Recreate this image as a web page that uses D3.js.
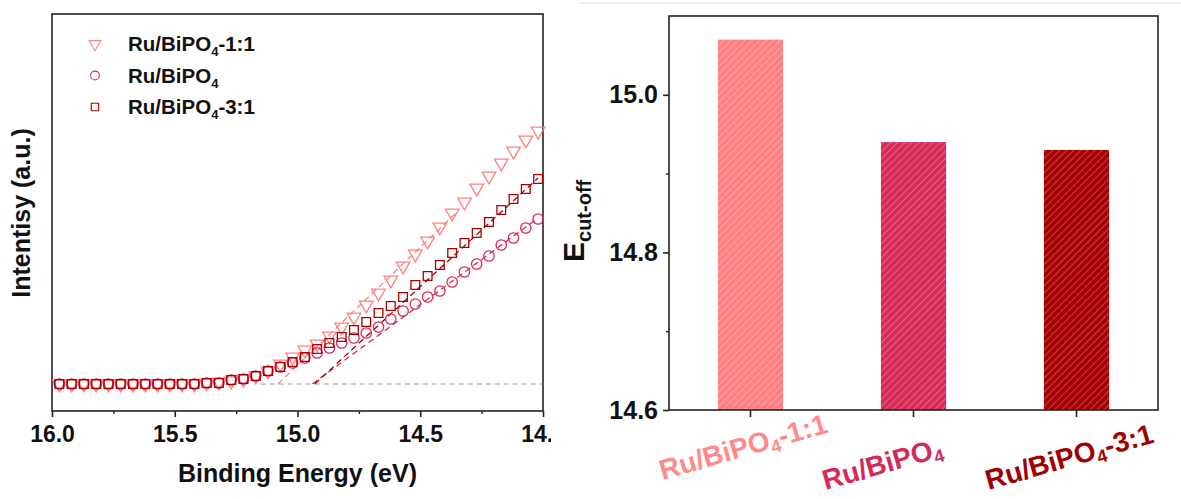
<!DOCTYPE html>
<html>
<head>
<meta charset="utf-8">
<script src="https://cdn.jsdelivr.net/npm/d3@7"></script>
<style>
  body { margin: 0; background: #fff; }
  text { font-family: Arial, "Liberation Sans", sans-serif; font-weight: bold; }
</style>
</head>
<body>
<div id="graphicContainer"></div>
<script>
// ---- left panel: secondary electron cut-off, intensity in a.u. ----
var energy = [15.97, 15.92, 15.87, 15.82, 15.77, 15.72, 15.67, 15.62, 15.57, 15.52,
              15.47, 15.42, 15.37, 15.32, 15.27, 15.22, 15.17, 15.12, 15.07, 15.02,
              14.97, 14.92, 14.87, 14.82, 14.77, 14.72, 14.67, 14.62, 14.57, 14.52,
              14.47, 14.42, 14.37, 14.32, 14.27, 14.22, 14.17, 14.12, 14.07, 14.02]

var int11 = [0, 0, 0, 0, 0, 0, 0, 0, 0, 0, 0, 0, 0.1, 0.2, 0.3, 0.5, 0.8, 1.3, 2.0, 2.7,
             3.4, 4.0, 4.8, 5.7, 6.7, 7.9, 9.1, 10.4, 11.8, 13.0, 14.3, 15.7, 17.1, 18.2, 19.6, 20.8,
             22.1, 23.3, 24.4, 25.3]
var intPure = [0, 0, 0, 0, 0, 0, 0, 0, 0, 0, 0, 0, 0.1, 0.1, 0.4, 0.5, 0.8, 1.3, 1.7, 2.1,
               2.6, 3.1, 3.6, 4.1, 4.6, 5.1, 5.7, 6.5, 7.3, 8.0, 8.7, 9.3, 10.2, 11.2, 12.0, 12.8,
               13.9, 14.6, 15.6, 16.5]
var int31 = [0, 0, 0, 0, 0, 0, 0, 0, 0, 0, 0, 0, 0.1, 0.1, 0.4, 0.5, 0.8, 1.3, 1.7, 2.2,
             2.7, 3.5, 4.1, 4.7, 5.4, 6.2, 7.1, 7.8, 8.7, 9.9, 10.8, 11.9, 13.1, 14.1, 15.1, 16.2,
             17.4, 18.5, 19.5, 20.5]

// linear extrapolation lines (start at baseline intercept)
var fit11 = [[15.08, 0], [14.35, 17.2]]
var fitPure = [[14.94, 0], [14.02, 16.6]]
var fit31 = [[14.93, 0], [14.02, 20.6]]
var baseLine = [[15.15, 0], [14.0, 0]]

var xTicks = [16.0, 15.5, 15.0, 14.5, 14.0]
var xMinor = [15.75, 15.25, 14.75, 14.25]

// ---- right panel: cut-off energies ----
var samples = ["Ru/BiPO4-1:1", "Ru/BiPO4", "Ru/BiPO4-3:1"]
var cutoff = [15.07, 14.94, 14.93]
var yTicks = [14.6, 14.8, 15.0]
var yMinor = [14.7, 14.9]

var colors = ["#ff8080", "#d92b58", "#a80000"]
var labelColors = ["#ff8a8a", "#d42a5a", "#a00000"]
var shapes = ["triangle", "circle", "square"]

var width = 1181, height = 499

var svg = d3.select("#graphicContainer").append("svg")
	.attr("width", width)
	.attr("height", height)

var defs = svg.append("defs")
colors.forEach(function(c, i) {
	var p = defs.append("pattern")
		.attr("id", "hatch" + i)
		.attr("patternUnits", "userSpaceOnUse")
		.attr("width", 5)
		.attr("height", 5)
		.attr("patternTransform", "rotate(45)")
	p.append("rect").attr("width", 5).attr("height", 5).attr("fill", c)
	p.append("line")
		.attr("x1", 0).attr("y1", 0).attr("x2", 0).attr("y2", 5)
		.attr("stroke", "#fff").attr("stroke-opacity", 0.5).attr("stroke-width", 1.1)
})

// light separator line at the very top of the right half
svg.append("line")
	.attr("x1", 578).attr("x2", width).attr("y1", 3).attr("y2", 3)
	.attr("stroke", "#ddd").attr("stroke-width", 1)

// ================= LEFT PANEL =================
var left = svg.append("svg")
	.attr("width", 551)
	.attr("height", height)
	.attr("overflow", "hidden")

var L = {left: 52, right: 543, top: 14, bottom: 411}

var x = d3.scaleLinear().domain([16, 14]).range([L.left, L.right])
var y = d3.scaleLinear().domain([-2.7, 37]).range([L.bottom, L.top])

left.append("rect")
	.attr("x", L.left).attr("y", L.top)
	.attr("width", L.right - L.left).attr("height", L.bottom - L.top)
	.attr("fill", "none").attr("stroke", "#222").attr("stroke-width", 1.6)

var xAxis = left.append("g").attr("transform", "translate(0," + L.bottom + ")")
	.call(d3.axisBottom(x).tickValues(xTicks).tickFormat(d3.format(".1f")).tickSize(6).tickSizeOuter(0))
xAxis.select(".domain").remove()
xAxis.selectAll(".tick line").attr("stroke", "#222").attr("stroke-width", 1.6)
xAxis.selectAll(".tick text").attr("font-size", 23).attr("fill", "#111").attr("dy", "0.95em")
	.attr("font-family", "Arial, 'Liberation Sans', sans-serif")

var xAxisMinor = left.append("g").attr("transform", "translate(0," + L.bottom + ")")
	.call(d3.axisBottom(x).tickValues(xMinor).tickFormat("").tickSize(3).tickSizeOuter(0))
xAxisMinor.select(".domain").remove()
xAxisMinor.selectAll(".tick line").attr("stroke", "#222").attr("stroke-width", 1.4)

left.append("text")
	.attr("x", (L.left + L.right) / 2).attr("y", 482)
	.attr("text-anchor", "middle").attr("font-size", 25).attr("fill", "#111")
	.text("Binding Energy (eV)")

left.append("text")
	.attr("transform", "translate(30," + 213 + ") rotate(-90)")
	.attr("text-anchor", "middle").attr("font-size", 25).attr("fill", "#111")
	.text("Intentisy (a.u.)")

var line = d3.line().x(d => x(d[0])).y(d => y(d[1]))

left.append("path").datum(baseLine)
	.attr("d", line).attr("fill", "none")
	.attr("stroke", "#999").attr("stroke-width", 1.1).attr("stroke-dasharray", "5,4")

var fits = [fit11, fitPure, fit31]
fits.forEach(function(f, i) {
	left.append("path").datum(f)
		.attr("d", line).attr("fill", "none")
		.attr("stroke", colors[i]).attr("stroke-width", 1.3).attr("stroke-dasharray", "6,4")
})

function symbolPath(shape) {
	if (shape == "triangle") return d3.symbol().type(d3.symbolTriangle).size(80)()
	if (shape == "circle") return d3.symbol().type(d3.symbolCircle).size(85)()
	return d3.symbol().type(d3.symbolSquare).size(76)()
}

var series = [int11, intPure, int31]
series.forEach(function(vals, i) {
	var rot = shapes[i] == "triangle" ? " rotate(180)" : ""
	left.append("g").selectAll("path")
		.data(vals)
		.enter()
		.append("path")
		.attr("d", symbolPath(shapes[i]))
		.attr("transform", (d, j) => "translate(" + x(energy[j]) + "," + y(d) + ")" + rot)
		.attr("fill", "none")
		.attr("stroke", colors[i])
		.attr("stroke-width", 1.3)
})

// legend
var legend = left.append("g")
samples.forEach(function(s, i) {
	var ly = 44 + i * 31.5
	var rot = shapes[i] == "triangle" ? " rotate(180)" : ""
	legend.append("path")
		.attr("d", symbolPath(shapes[i]))
		.attr("transform", "translate(95," + ly + ") scale(0.85)" + rot)
		.attr("fill", "none").attr("stroke", colors[i]).attr("stroke-width", 1.3)
	var t = legend.append("text")
		.attr("x", 128).attr("y", ly + 7)
		.attr("font-size", 20.5).attr("fill", "#111")
	var parts = s.split("4")
	t.append("tspan").text(parts[0])
	t.append("tspan").attr("font-size", 13).attr("dy", 5).text("4")
	if (parts[1]) t.append("tspan").attr("dy", -5).text(parts[1])
})

// ================= RIGHT PANEL =================
var R = {left: 669, right: 1158, top: 16, bottom: 410}

var xb = d3.scaleBand().domain(samples).range([R.left, R.right])
	.paddingInner(0.6).paddingOuter(0.3)
var yb = d3.scaleLinear().domain([14.6, 15.1]).range([R.bottom, R.top])

svg.append("g").selectAll("rect")
	.data(cutoff)
	.enter()
	.append("rect")
	.attr("x", (d, i) => xb(samples[i]))
	.attr("width", xb.bandwidth())
	.attr("y", d => yb(d))
	.attr("height", d => yb(14.6) - yb(d))
	.attr("fill", (d, i) => "url(#hatch" + i + ")")

svg.append("rect")
	.attr("x", R.left).attr("y", R.top)
	.attr("width", R.right - R.left).attr("height", R.bottom - R.top)
	.attr("fill", "none").attr("stroke", "#222").attr("stroke-width", 1.6)

var yAxis = svg.append("g").attr("transform", "translate(" + R.left + ",0)")
	.call(d3.axisLeft(yb).tickValues(yTicks).tickFormat(d3.format(".1f")).tickSize(6).tickPadding(5).tickSizeOuter(0))
yAxis.select(".domain").remove()
yAxis.selectAll(".tick line").attr("stroke", "#222").attr("stroke-width", 1.6)
yAxis.selectAll(".tick text").attr("font-size", 25).attr("fill", "#111")
	.attr("font-family", "Arial, 'Liberation Sans', sans-serif")

var yAxisMinor = svg.append("g").attr("transform", "translate(" + R.left + ",0)")
	.call(d3.axisLeft(yb).tickValues(yMinor).tickFormat("").tickSize(3).tickSizeOuter(0))
yAxisMinor.select(".domain").remove()
yAxisMinor.selectAll(".tick line").attr("stroke", "#222").attr("stroke-width", 1.4)

var xbAxis = svg.append("g").attr("transform", "translate(0," + R.bottom + ")")
	.call(d3.axisBottom(xb).tickFormat("").tickSize(7).tickSizeOuter(0))
xbAxis.select(".domain").remove()
xbAxis.selectAll(".tick line").attr("stroke", "#222").attr("stroke-width", 1.6)

// rotated, coloured category labels
var labelShift = [-10, 0, 0]
samples.forEach(function(s, i) {
	var cx = xb(s) + xb.bandwidth() / 2
	var t = svg.append("text")
		.attr("transform", "translate(" + (cx - 88) + "," + (490 + labelShift[i]) + ") rotate(-16)")
		.attr("font-size", 28).attr("fill", labelColors[i])
	var parts = s.split("4")
	t.append("tspan").text(parts[0])
	t.append("tspan").attr("font-size", 18).attr("dy", 5).text("4")
	if (parts[1]) t.append("tspan").attr("dy", -5).text(parts[1])
})

var yt = svg.append("text")
	.attr("transform", "translate(584,262) rotate(-90)")
	.attr("fill", "#111")
yt.append("tspan").attr("font-size", 30).text("E")
yt.append("tspan").attr("font-size", 20).attr("dy", 7).text("cut-off")
</script>
</body>
</html>
